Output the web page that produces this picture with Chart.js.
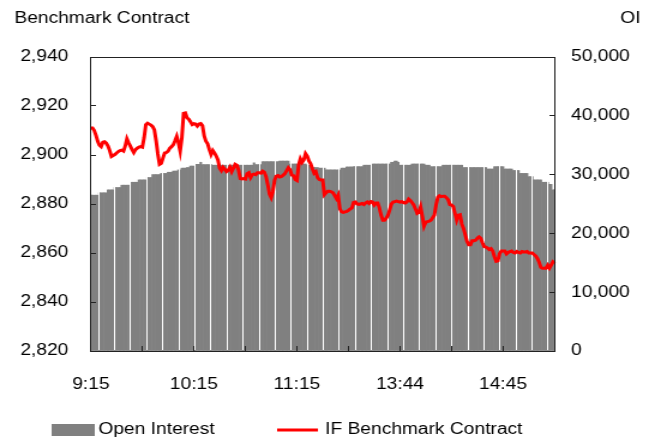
<!DOCTYPE html>
<html lang="en">
<head>
<meta charset="UTF-8" />
<title>IF Benchmark Contract and Open Interest</title>
<script src="https://cdn.jsdelivr.net/npm/chart.js"></script>
<style>
  html, body { margin: 0; padding: 0; background: #fff; }
  #chart { display: block; }
</style>
</head>
<body>
<!-- the original picture is a horizontally stretched export, so the canvas is drawn narrow and stretched -->
<canvas id="chart" width="551" height="441" style="width:661px;height:441px"></canvas>
<script>
// one value per trading minute, 9:15-11:30 and 13:00-15:15
const benchmarkPrice = [
  2911, 2911, 2910, 2908, 2905.6, 2904, 2903.4, 2905.2, 2905.4, 2904.8,
  2903.6, 2901.8, 2899.4, 2899.8, 2900.2, 2900.8, 2901.4, 2901.8, 2902, 2901.6,
  2903.6, 2906.6, 2905, 2903.6, 2902.2, 2901, 2902.2, 2902.8, 2903.2, 2903.4,
  2903.2, 2907, 2912.4, 2913, 2912.6, 2912.2, 2911.6, 2910.2, 2905.8, 2900.4,
  2896.2, 2896.6, 2898.8, 2900.8, 2901, 2901.6, 2902.8, 2903.4, 2904.2, 2905.8,
  2907.6, 2905, 2901.6, 2907, 2917, 2917.2, 2915.2, 2914.6, 2913.6, 2912.4,
  2912.8, 2912.6, 2911.8, 2912.6, 2912.8, 2912, 2907.8, 2905.6, 2904.6, 2902.2,
  2900.2, 2901.8, 2900.8, 2899.6, 2898, 2894.6, 2893.6, 2895, 2894.2, 2893.2,
  2893.8, 2895, 2893.2, 2894.6, 2896.2, 2895.8, 2893.8, 2890.4, 2890.2, 2890.4,
  2890.2, 2892.4, 2892.8, 2890.8, 2892, 2892.2, 2892, 2892.8, 2892.8, 2892.6,
  2893.4, 2893, 2891.2, 2888, 2884, 2882.6, 2885, 2889.8, 2891.4, 2891.6,
  2891, 2891.2, 2891.8, 2892.4, 2893.6, 2894.8, 2894, 2891.8, 2891.6, 2890,
  2889.6, 2896, 2898.4, 2897, 2898, 2900.6, 2899.6, 2897.6, 2896.4, 2894.4,
  2892.6, 2893.2, 2890.8, 2890, 2889.8, 2889.8, 2883.8, 2884.6, 2885.2, 2885.2,
  2885, 2884.6, 2883.4, 2882.2, 2883.6, 2878, 2876.8, 2876.6, 2876.8, 2877,
  2877.4, 2878, 2878.4, 2880.6, 2880.8, 2880, 2879.8, 2880, 2880.2, 2879.8,
  2880.4, 2880.8, 2880.2, 2881, 2880.8, 2879.6, 2880.4, 2880.4, 2878.4, 2875.4,
  2873.4, 2873.4, 2874.2, 2875.4, 2877.6, 2880, 2880.8, 2881, 2881.2, 2881,
  2880.8, 2881, 2880.6, 2880.4, 2880.8, 2882, 2881.4, 2880.6, 2879.6, 2878,
  2876.2, 2876.6, 2878.8, 2875, 2871, 2872.6, 2872.8, 2873, 2873.4, 2874.4,
  2875.4, 2879.6, 2882.8, 2883.4, 2883, 2883.2, 2883.2, 2882.6, 2881.8, 2879.8,
  2879.6, 2879, 2876.2, 2873.4, 2875.4, 2875.6, 2871.8, 2870, 2867.4, 2864.8,
  2863.4, 2863.4, 2865, 2865, 2865.2, 2866, 2866.6, 2866, 2864.2, 2862.6,
  2862.4, 2862, 2861.4, 2861.8, 2860.8, 2858.4, 2856.6, 2856.8, 2859.8, 2860.8,
  2860.8, 2860.8, 2859.6, 2860.2, 2860.6, 2860.8, 2860.2, 2860, 2860.6, 2860.2,
  2860, 2860.6, 2860.4, 2860.4, 2860.6, 2860, 2860, 2860, 2859.4, 2858.8,
  2857.8, 2856.2, 2854.2, 2853.8, 2853.8, 2853.8, 2855, 2853.8, 2855, 2856.4,
  2855.8
];

const openInterest = [
  26500, 26500, 26500, 26500, 26500, 26900, 26900, 26900, 26900, 26900,
  27400, 27400, 27400, 27400, 27800, 27800, 27800, 27800, 28200, 28200,
  28200, 28200, 28200, 28200, 28700, 28700, 28700, 28700, 29100, 29100,
  29100, 29100, 29100, 29500, 29500, 29500, 30000, 30000, 30000, 30000,
  30000, 30200, 30200, 30200, 30200, 30400, 30400, 30400, 30600, 30600,
  30600, 30800, 30800, 31100, 31100, 31100, 31200, 31200, 31450, 31450,
  31450, 31750, 31750, 31750, 32100, 31700, 31700, 31700, 31700, 31700,
  31700, 31600, 31600, 31600, 31600, 31600, 31600, 31600, 31600, 31600,
  31600, 31600, 31600, 31600, 31600, 31600, 31600, 31600, 31600, 31600,
  31600, 31600, 31600, 31600, 31600, 32000, 31700, 31700, 31700, 31700,
  32200, 32200, 32200, 32200, 32200, 32200, 32200, 32200, 32200, 32200,
  32300, 32300, 32300, 32300, 32300, 32300, 31800, 31800, 31800, 31800,
  31800, 31800, 31800, 31800, 31800, 31800, 31600, 31600, 31600, 31200,
  31200, 31200, 31200, 31100, 31100, 31100, 31100, 30800, 30800, 30800,
  30800, 30800, 30800, 30800, 30800, 30800, 31100, 31100, 31100, 31300,
  31300, 31300, 31300, 31350, 31350, 31350, 31350, 31350, 31350, 31600,
  31600, 31600, 31600, 31600, 31800, 31800, 31800, 31800, 31800, 31800,
  31800, 31800, 31800, 31800, 31800, 32100, 32100, 32300, 32300, 32100,
  31600, 31600, 31600, 31600, 31600, 31600, 31600, 31800, 31800, 31800,
  31800, 31800, 31800, 31800, 31800, 31600, 31600, 31600, 31350, 31350,
  31350, 31350, 31350, 31350, 31350, 31600, 31600, 31600, 31600, 31600,
  31600, 31600, 31600, 31600, 31600, 31600, 31600, 31200, 31200, 31200,
  31200, 31200, 31200, 31200, 31200, 31200, 31200, 31200, 31200, 31200,
  31200, 30950, 30950, 30950, 30950, 31350, 31350, 31350, 31350, 31350,
  31350, 30950, 30950, 30950, 30950, 30950, 30700, 30700, 30700, 30700,
  30200, 30200, 30200, 30200, 30200, 29650, 29650, 29650, 29100, 29100,
  29100, 29100, 29100, 28700, 28700, 28700, 28700, 28350, 28350, 27400,
  27400
];

// labelled every 60 minutes, tick marks every 30
const timeTicks = ['9:15', '10:15', '11:15', '13:44', '14:45'];
const labelEvery = 60;
const tickEvery = 30;

const FONT = '"Liberation Sans", Arial, Helvetica, sans-serif';
Chart.defaults.font.family = FONT;
Chart.defaults.font.size = 16;
Chart.defaults.color = '#000';

const fmt = v => Number(v).toLocaleString('en-US');

// axis titles sit above the plot, one on each side
const axisTitles = {
  id: 'axisTitles',
  afterDraw(chart) {
    const ctx = chart.ctx;
    ctx.save();
    ctx.font = '16px ' + FONT;
    ctx.fillStyle = '#000';
    ctx.textBaseline = 'middle';
    ctx.textAlign = 'left';
    ctx.fillText('Benchmark Contract', 12, 19);
    ctx.textAlign = 'right';
    ctx.fillText('OI', chart.width - 17, 19);
    ctx.restore();
  }
};

// legend row under the axis, in dataset order
const legendRow = {
  id: 'legendRow',
  afterDraw(chart) {
    const ctx = chart.ctx;
    const [oi, px] = chart.data.datasets;
    const y = 430;
    ctx.save();
    ctx.fillStyle = oi.backgroundColor;
    ctx.fillRect(43, y - 6, 36, 12);
    ctx.strokeStyle = px.borderColor;
    ctx.lineWidth = px.borderWidth;
    ctx.beginPath();
    ctx.moveTo(231, y);
    ctx.lineTo(265, y);
    ctx.stroke();
    ctx.font = '16px ' + FONT;
    ctx.fillStyle = '#000';
    ctx.textBaseline = 'middle';
    ctx.textAlign = 'left';
    ctx.fillText(oi.label, 82, y);
    ctx.fillText(px.label, 271, y);
    ctx.restore();
  }
};

// thin white seams between groups of bars, as in the exported picture
const barSeams = {
  id: 'barSeams',
  afterDatasetDraw(chart, args) {
    if (args.index !== 0) return;
    const x = chart.scales.x, area = chart.chartArea, ctx = chart.ctx;
    ctx.save();
    ctx.fillStyle = '#fff';
    for (let v = 4.15; v < openInterest.length - 1; v += 9.35) {
      const px = Math.round(x.getPixelForValue(v));
      ctx.fillRect(px, area.top, 1, area.bottom - area.top - 1);
    }
    ctx.restore();
  }
};

// box round the plot area
const plotFrame = {
  id: 'plotFrame',
  afterDatasetsDraw(chart) {
    const a = chart.chartArea, ctx = chart.ctx;
    ctx.save();
    ctx.strokeStyle = '#222';
    ctx.lineWidth = 1;
    ctx.strokeRect(Math.round(a.left) + 0.5, Math.round(a.top) + 0.5,
      Math.round(a.right - a.left) - 1, Math.round(a.bottom - a.top));
    ctx.restore();
  }
};

new Chart(document.getElementById('chart'), {
  type: 'bar',
  data: {
    labels: openInterest.map((_, i) => i),
    datasets: [
      {
        type: 'bar',
        label: 'Open Interest',
        data: openInterest,
        yAxisID: 'y1',
        backgroundColor: '#808080',
        borderWidth: 0,
        categoryPercentage: 1,
        barPercentage: 1,
        order: 2
      },
      {
        type: 'line',
        label: 'IF Benchmark Contract',
        data: benchmarkPrice,
        yAxisID: 'y',
        borderColor: '#ff0000',
        backgroundColor: '#ff0000',
        borderWidth: 3,
        pointRadius: 0,
        tension: 0,
        order: 1
      }
    ]
  },
  options: {
    responsive: false,
    animation: false,
    events: [],
    layout: { padding: { top: 57, left: 0, right: 0, bottom: 0 } },
    plugins: {
      tooltip: { enabled: false },
      legend: { display: false }
    },
    scales: {
      x: {
        offset: true,
        border: { display: false },
        grid: {
          drawOnChartArea: false,
          offset: false,
          tickLength: -5,
          z: 1,
          color: c => (c.index % tickEvery === 0 ? '#222' : 'rgba(0,0,0,0)')
        },
        ticks: {
          autoSkip: false,
          maxRotation: 0,
          minRotation: 0,
          padding: 29,
          callback: (v, i) => (i % labelEvery === 0 ? timeTicks[i / labelEvery] : '')
        },
        afterFit: s => { s.height = 90; }
      },
      y: {
        position: 'left',
        min: 2820,
        max: 2940,
        border: { display: false },
        grid: { drawOnChartArea: false, tickLength: -5, z: 1, color: '#222' },
        ticks: { stepSize: 20, padding: 23, callback: v => fmt(v) },
        afterFit: s => { s.width = 75; }
      },
      y1: {
        position: 'right',
        min: 0,
        max: 50000,
        border: { display: false },
        grid: { drawOnChartArea: false, tickLength: -5, z: 1, color: '#222' },
        ticks: { stepSize: 10000, padding: 18, callback: v => fmt(v) },
        afterFit: s => { s.width = 88; }
      }
    }
  },
  plugins: [axisTitles, legendRow, barSeams, plotFrame]
});
</script>
</body>
</html>
